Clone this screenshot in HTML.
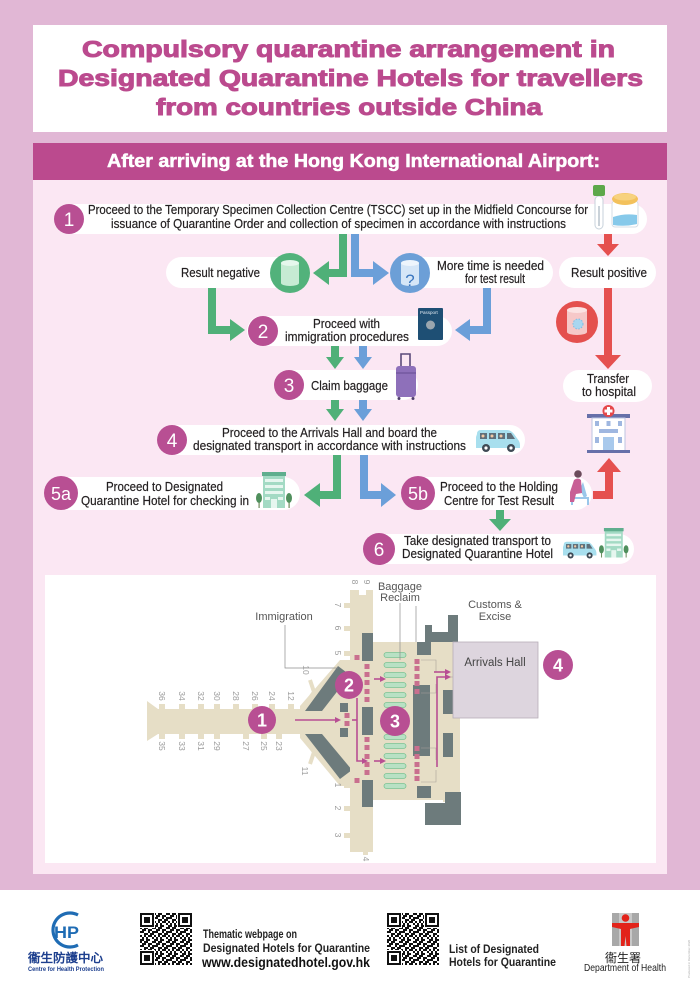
<!DOCTYPE html>
<html><head><meta charset="utf-8">
<style>
html,body{margin:0;padding:0;background:#e1b7d5;width:700px;height:989px;overflow:hidden;}
svg{display:block}
text{font-family:"Liberation Sans Narrow","Liberation Sans",sans-serif;}
.n{font-family:"Liberation Sans",sans-serif;fill:#fff;text-anchor:middle;}
.g{font-family:"Liberation Sans",sans-serif;fill:#9a9a9a;font-size:8.5px;text-anchor:middle;}
.t{fill:#231f20;font-size:13px;}
</style></head><body>
<svg width="700" height="989" viewBox="0 0 700 989" xmlns="http://www.w3.org/2000/svg">
<defs>
<pattern id="qr" patternUnits="userSpaceOnUse" x="0" y="0" width="14" height="14">
<path fill="#111" d="M0 0h2v2h-2z M4 0h4v2h-4z M12 0h2v2h-2z M2 2h4v2h-4z M8 2h4v2h-4z M0 4h4v2h-4z M8 4h2v2h-2z M12 4h2v2h-2z M4 6h4v2h-4z M10 6h4v2h-4z M0 8h2v2h-2z M4 8h2v2h-2z M8 8h4v2h-4z M2 10h2v2h-2z M6 10h2v2h-2z M12 10h2v2h-2z M0 12h4v2h-4z M6 12h4v2h-4z"/>
</pattern>
<g id="qrcode">
<rect width="52" height="52" fill="#fff"/>
<rect width="52" height="52" fill="url(#qr)"/>
<g>
<rect x="0" y="0" width="15" height="15" fill="#fff"/><rect x="0" y="0" width="14" height="14" fill="#111"/><rect x="2" y="2" width="10" height="10" fill="#fff"/><rect x="4" y="4" width="6" height="6" fill="#111"/>
<rect x="37" y="0" width="15" height="15" fill="#fff"/><rect x="38" y="0" width="14" height="14" fill="#111"/><rect x="40" y="2" width="10" height="10" fill="#fff"/><rect x="42" y="4" width="6" height="6" fill="#111"/>
<rect x="0" y="37" width="15" height="15" fill="#fff"/><rect x="0" y="38" width="14" height="14" fill="#111"/><rect x="2" y="40" width="10" height="10" fill="#fff"/><rect x="4" y="42" width="6" height="6" fill="#111"/>
</g>
</g>
<g id="van">
<path d="M1,5 Q1,1 5,1 L31,1 Q35,1 38,5 L43,12 Q44,14 44,16 L44,19 L0,19 L0,8 Z" fill="#a8dfee"/>
<rect x="4" y="4" width="7" height="6" fill="#5f6f7a"/>
<rect x="13" y="4" width="7" height="6" fill="#5f6f7a"/>
<rect x="22" y="4" width="7" height="6" fill="#5f6f7a"/>
<path d="M31,4 L35,4 L39,10 L31,10 Z" fill="#5f6f7a"/>
<circle cx="7" cy="7" r="1.5" fill="#f1c9a5"/><circle cx="16" cy="7" r="1.5" fill="#f1c9a5"/><circle cx="25" cy="7" r="1.5" fill="#f1c9a5"/>
<circle cx="10" cy="19" r="4" fill="#3f4a55"/><circle cx="10" cy="19" r="1.6" fill="#fff"/>
<circle cx="35" cy="19" r="4" fill="#3f4a55"/><circle cx="35" cy="19" r="1.6" fill="#fff"/>
</g>
<g id="hotel">
<rect x="7" y="0" width="22" height="36" fill="#a3dac4"/>
<rect x="6" y="0" width="24" height="4" fill="#5fae8e"/>
<rect x="9" y="7" width="18" height="3" fill="#e6f6ef"/>
<rect x="9" y="13" width="18" height="3" fill="#e6f6ef"/>
<rect x="9" y="19" width="18" height="3" fill="#e6f6ef"/>
<rect x="9" y="25" width="5" height="3" fill="#e6f6ef"/><rect x="22" y="25" width="5" height="3" fill="#e6f6ef"/>
<rect x="15" y="27" width="6" height="9" fill="#e6f6ef"/>
<rect x="2.5" y="29" width="1.2" height="7" fill="#6b8a5a"/><ellipse cx="3" cy="26" rx="3" ry="5" fill="#4f8f5c"/>
<rect x="32.5" y="29" width="1.2" height="7" fill="#6b8a5a"/><ellipse cx="33" cy="26" rx="3" ry="5" fill="#4f8f5c"/>
</g>
</defs>

<rect width="700" height="989" fill="#e1b7d5"/>

<!-- Title -->
<rect x="33" y="25" width="634" height="107" fill="#fff"/>
<g fill="#bb4a8e" stroke="#bb4a8e" stroke-width="1" font-weight="bold" font-size="23">
<text x="82" y="57" textLength="533" lengthAdjust="spacingAndGlyphs">Compulsory quarantine arrangement in</text>
<text x="58" y="86" textLength="585" lengthAdjust="spacingAndGlyphs">Designated Quarantine Hotels for travellers</text>
<text x="156" y="115" textLength="386" lengthAdjust="spacingAndGlyphs">from countries outside China</text>
</g>
<rect x="33" y="143" width="634" height="37" fill="#bb4a8e"/>
<text x="107" y="167" font-size="18" font-weight="bold" fill="#fff" stroke="#fff" stroke-width="0.5" textLength="493" lengthAdjust="spacingAndGlyphs">After arriving at the Hong Kong International Airport:</text>

<rect x="33" y="180" width="634" height="694" fill="#fbe7f3"/>

<!-- ===== Flow arrows ===== -->
<g fill="none" stroke-width="8" stroke-linejoin="miter">
<polyline points="343,233 343,273 328,273" stroke="#4fb078"/>
<polyline points="355,233 355,273 374,273" stroke="#6b9fd9"/>
<polyline points="212,288 212,330 231,330" stroke="#4fb078"/>
<polyline points="487,288 487,330 469,330" stroke="#6b9fd9"/>
<polyline points="337,455 337,495 319,495" stroke="#4fb078"/>
<polyline points="364,455 364,495 382,495" stroke="#6b9fd9"/>
<line x1="335" y1="346" x2="335" y2="358" stroke="#4fb078"/>
<line x1="363" y1="346" x2="363" y2="358" stroke="#6b9fd9"/>
<line x1="335" y1="400" x2="335" y2="410" stroke="#4fb078"/>
<line x1="363" y1="400" x2="363" y2="410" stroke="#6b9fd9"/>
<line x1="500" y1="509" x2="500" y2="520" stroke="#4fb078"/>
<line x1="608" y1="233" x2="608" y2="245" stroke="#e5504f"/>
<line x1="608" y1="288" x2="608" y2="356" stroke="#e5504f"/>
<polyline points="593,495 609,495 609,471" stroke="#e5504f"/>
</g>
<g>
<polygon points="329,261 313,273 329,285" fill="#4fb078"/>
<polygon points="373,261 389,273 373,285" fill="#6b9fd9"/>
<polygon points="230,319 245,330 230,341" fill="#4fb078"/>
<polygon points="470,319 455,330 470,341" fill="#6b9fd9"/>
<polygon points="320,483 304,495 320,507" fill="#4fb078"/>
<polygon points="381,483 396,495 381,507" fill="#6b9fd9"/>
<polygon points="326,357 344,357 335,369" fill="#4fb078"/>
<polygon points="354,357 372,357 363,369" fill="#6b9fd9"/>
<polygon points="326,409 344,409 335,421" fill="#4fb078"/>
<polygon points="354,409 372,409 363,421" fill="#6b9fd9"/>
<polygon points="489,519 511,519 500,531" fill="#4fb078"/>
<polygon points="597,244 619,244 608,256" fill="#e5504f"/>
<polygon points="595,355 621,355 608,369" fill="#e5504f"/>
<polygon points="597,472 621,472 609,458" fill="#e5504f"/>
</g>

<!-- ===== Pills ===== -->
<g fill="#fff">
<rect x="56" y="204" width="591" height="30" rx="15"/>
<rect x="166" y="257" width="132" height="31" rx="15.5"/>
<rect x="395" y="257" width="158" height="31" rx="15.5"/>
<rect x="559" y="257" width="97" height="31" rx="15.5"/>
<rect x="247" y="316" width="205" height="30" rx="15"/>
<rect x="275" y="370" width="143" height="30" rx="15"/>
<rect x="563" y="370" width="89" height="32" rx="16"/>
<rect x="157" y="425" width="368" height="30" rx="15"/>
<rect x="45" y="477" width="255" height="33" rx="16.5"/>
<rect x="402" y="477" width="190" height="33" rx="16.5"/>
<rect x="364" y="534" width="270" height="30" rx="15"/>
</g>

<!-- ===== Step circles ===== -->
<g fill="#b84f93">
<circle cx="69" cy="219" r="15"/>
<circle cx="263" cy="331" r="15"/>
<circle cx="289" cy="385" r="15"/>
<circle cx="172" cy="440" r="15"/>
<circle cx="61" cy="493" r="17"/>
<circle cx="418" cy="493" r="17"/>
<circle cx="379" cy="549" r="16"/>
</g>
<g class="n" font-size="19">
<text x="69" y="226" class="n">1</text>
<text x="263" y="338" class="n">2</text>
<text x="289" y="392" class="n">3</text>
<text x="172" y="447" class="n">4</text>
<text x="61" y="500" class="n" font-size="18">5a</text>
<text x="418" y="500" class="n" font-size="18">5b</text>
<text x="379" y="556" class="n">6</text>
</g>

<!-- ===== Step texts ===== -->
<g class="t" stroke="#231f20" stroke-width="0.2">
<text x="88" y="214" font-size="12.5" textLength="500" lengthAdjust="spacingAndGlyphs" fill="#231f20">Proceed to the Temporary Specimen Collection Centre (TSCC) set up in the Midfield Concourse for</text>
<text x="111" y="228" font-size="12.5" textLength="455" lengthAdjust="spacingAndGlyphs" fill="#231f20">issuance of Quarantine Order and collection of specimen in accordance with instructions</text>
<text x="181" y="277" font-size="13" textLength="79" lengthAdjust="spacingAndGlyphs" fill="#231f20">Result negative</text>
<text x="437" y="270" font-size="13" textLength="107" lengthAdjust="spacingAndGlyphs" fill="#231f20">More time is needed</text>
<text x="465" y="283" font-size="13" textLength="60" lengthAdjust="spacingAndGlyphs" fill="#231f20">for test result</text>
<text x="571" y="277" font-size="13" textLength="76" lengthAdjust="spacingAndGlyphs" fill="#231f20">Result positive</text>
<text x="313" y="328" font-size="13" textLength="67" lengthAdjust="spacingAndGlyphs" fill="#231f20">Proceed with</text>
<text x="285" y="341" font-size="13" textLength="124" lengthAdjust="spacingAndGlyphs" fill="#231f20">immigration procedures</text>
<text x="311" y="390" font-size="13" textLength="77" lengthAdjust="spacingAndGlyphs" fill="#231f20">Claim baggage</text>
<text x="587" y="383" font-size="13" textLength="42" lengthAdjust="spacingAndGlyphs" fill="#231f20">Transfer</text>
<text x="582" y="396" font-size="13" textLength="54" lengthAdjust="spacingAndGlyphs" fill="#231f20">to hospital</text>
<text x="222" y="437" font-size="13" textLength="215" lengthAdjust="spacingAndGlyphs" fill="#231f20">Proceed to the Arrivals Hall and board the</text>
<text x="193" y="450" font-size="13" textLength="273" lengthAdjust="spacingAndGlyphs" fill="#231f20">designated transport in accordance with instructions</text>
<text x="106" y="491" font-size="13" textLength="117" lengthAdjust="spacingAndGlyphs" fill="#231f20">Proceed to Designated</text>
<text x="81" y="505" font-size="13" textLength="168" lengthAdjust="spacingAndGlyphs" fill="#231f20">Quarantine Hotel for checking in</text>
<text x="440" y="491" font-size="13" textLength="118" lengthAdjust="spacingAndGlyphs" fill="#231f20">Proceed to the Holding</text>
<text x="444" y="505" font-size="13" textLength="110" lengthAdjust="spacingAndGlyphs" fill="#231f20">Centre for Test Result</text>
<text x="404" y="545" font-size="13" textLength="147" lengthAdjust="spacingAndGlyphs" fill="#231f20">Take designated transport to</text>
<text x="402" y="558" font-size="13" textLength="151" lengthAdjust="spacingAndGlyphs" fill="#231f20">Designated Quarantine Hotel</text>
</g>

<!-- ===== Icons ===== -->
<g>
<rect x="595" y="196" width="8" height="33" rx="4" fill="#fff" stroke="#c7d2db" stroke-width="1"/>
<line x1="599" y1="206" x2="599" y2="226" stroke="#b9c3cc" stroke-width="1.5"/>
<rect x="593" y="185" width="12" height="11" rx="2" fill="#5da84a"/>
<rect x="612" y="201" width="26" height="26" rx="3" fill="#fff" stroke="#d6dee6"/>
<path d="M613,217 Q625,213 637,215 L637,224 Q625,227 613,225 Z" fill="#86c9ea"/>
<ellipse cx="625" cy="199" rx="13" ry="6" fill="#f3c15c"/>
<ellipse cx="625" cy="197" rx="11" ry="3.5" fill="#f7d27f"/>
</g>
<circle cx="290" cy="273" r="20" fill="#52b27b"/>
<rect x="281" y="263" width="18" height="20" fill="#c6ebd3"/>
<ellipse cx="290" cy="283" rx="9" ry="3" fill="#c6ebd3"/>
<ellipse cx="290" cy="263" rx="9" ry="3" fill="#e6f7ec"/>
<circle cx="410" cy="273" r="20" fill="#6c9fd7"/>
<rect x="401" y="263" width="18" height="20" fill="#d5e6f7"/>
<ellipse cx="410" cy="283" rx="9" ry="3" fill="#d5e6f7"/>
<ellipse cx="410" cy="263" rx="9" ry="3" fill="#eef5fc"/>
<text x="410" y="286" font-size="17" fill="#3b77c0" text-anchor="middle" font-family="Liberation Sans, sans-serif">?</text>
<circle cx="577" cy="322" r="21" fill="#e4504e"/>
<rect x="567" y="310" width="20" height="22" fill="#f6c8c8"/>
<ellipse cx="577" cy="332" rx="10" ry="3" fill="#f6c8c8"/>
<ellipse cx="577" cy="310" rx="10" ry="3" fill="#fbe3e3"/>
<circle cx="578" cy="324" r="5" fill="#a9d6f0" stroke="#7fbde3" stroke-dasharray="1.5 1.5"/>
<rect x="418" y="308" width="25" height="32" rx="1" fill="#1e4f74"/>
<text x="420" y="314" font-size="4.5" fill="#dfe8f0" font-family="Liberation Sans, sans-serif">Passport</text>
<circle cx="430.5" cy="325" r="4.5" fill="#9aa6ae"/>
<path d="M401,367 L401,354 L410,354 L410,367" fill="none" stroke="#5b4a7a" stroke-width="1.6"/>
<rect x="396" y="366" width="20" height="31" rx="3" fill="#8e70ba"/>
<rect x="396" y="372" width="20" height="2" fill="#7a5ea6"/>
<circle cx="399" cy="398.5" r="1.5" fill="#4d3d6a"/><circle cx="413" cy="398.5" r="1.5" fill="#4d3d6a"/>
<use href="#van" transform="translate(476,429)"/>
<use href="#van" transform="translate(563,541) scale(0.76)"/>
<use href="#hotel" transform="translate(256,472)"/>
<use href="#hotel" transform="translate(599,528) scale(0.82)"/>
<rect x="587" y="414" width="43" height="4" fill="#6670a9"/>
<rect x="592" y="418" width="33" height="33" fill="#fff" stroke="#bcc6e2"/>
<rect x="595" y="421" width="4" height="5" fill="#9fb7e0"/><rect x="606.5" y="421" width="4" height="5" fill="#9fb7e0"/><rect x="618" y="421" width="4" height="5" fill="#9fb7e0"/>
<rect x="599" y="429" width="19" height="4" fill="#9fb7e0"/>
<rect x="595" y="437" width="4" height="6" fill="#9fb7e0"/><rect x="618" y="437" width="4" height="6" fill="#9fb7e0"/>
<rect x="603" y="437" width="11" height="14" fill="#a8c9ec"/>
<rect x="587" y="450" width="43" height="3" fill="#6670a9"/>
<circle cx="608.5" cy="411" r="6" fill="#e5484a"/>
<rect x="607" y="407" width="3" height="8" fill="#fff"/><rect x="604.5" y="409.5" width="8" height="3" fill="#fff"/>
<path d="M572,505 L572,498 L588,498 L588,505" fill="none" stroke="#9ac7ea" stroke-width="2"/>
<path d="M583,482 L587,496 L584,498 L580,489 Z" fill="#9ac7ea"/>
<path d="M574,480 Q578,477 581,480 L582,493 L576,494 L574,502 L570,502 L570,492 Z" fill="#c85f95"/>
<circle cx="578" cy="474" r="3.8" fill="#6b4b5b"/>

<!-- ===== Map ===== -->
<rect x="45" y="575" width="611" height="288" fill="#fff"/>
<g>
<polygon points="147,701 158,709 158,734 147,741" fill="#e6dec6"/>
<rect x="157" y="709" width="148" height="25" fill="#e6dec6"/>
<g fill="#e6dec6">
<rect x="159" y="704" width="6" height="5"/><rect x="179" y="704" width="6" height="5"/><rect x="198" y="704" width="6" height="5"/><rect x="214" y="704" width="6" height="5"/><rect x="233" y="704" width="6" height="5"/><rect x="252" y="704" width="6" height="5"/><rect x="269" y="704" width="6" height="5"/><rect x="288" y="704" width="6" height="5"/>
<rect x="159" y="734" width="6" height="5"/><rect x="179" y="734" width="6" height="5"/><rect x="198" y="734" width="6" height="5"/><rect x="214" y="734" width="6" height="5"/><rect x="243" y="734" width="6" height="5"/><rect x="261" y="734" width="6" height="5"/><rect x="276" y="734" width="6" height="5"/>
</g>
<polygon points="300,706 340,660 352,660 352,786 340,786 300,738" fill="#e6dec6"/>
<polyline points="306,704 314,692 310,680" fill="none" stroke="#e6dec6" stroke-width="4"/>
<polyline points="306,740 314,752 310,764" fill="none" stroke="#e6dec6" stroke-width="4"/>
<polygon points="305,711 338,666 350,675 322,711" fill="#6d7b7c"/>
<polygon points="305,734 322,734 352,770 340,779" fill="#6d7b7c"/>
<rect x="340" y="703" width="8" height="9" fill="#6d7b7c"/>
<rect x="340" y="728" width="8" height="9" fill="#6d7b7c"/>
<rect x="350" y="590" width="23" height="262" fill="#e6dec6"/>
<rect x="359" y="589" width="7" height="6" fill="#fff"/>
<g fill="#e6dec6">
<rect x="344" y="603" width="6" height="5"/><rect x="344" y="626" width="6" height="5"/><rect x="344" y="651" width="6" height="5"/>
<rect x="344" y="783" width="6" height="5"/><rect x="344" y="806" width="6" height="5"/><rect x="344" y="833" width="6" height="5"/>
<rect x="363" y="850" width="5" height="5"/>
</g>
<g fill="#6d7b7c">
<rect x="362" y="633" width="11" height="28"/>
<rect x="362" y="707" width="11" height="28"/>
<rect x="362" y="780" width="11" height="27"/>
</g>
<rect x="373" y="642" width="87" height="158" fill="#e6dec6"/>
<rect x="443" y="718" width="17" height="84" fill="#e6dec6"/>
<g fill="#6d7b7c">
<rect x="413" y="685" width="17" height="71"/>
<rect x="417" y="642" width="14" height="13"/>
<rect x="417" y="786" width="14" height="12"/>
<polygon points="425,625 432,625 432,632 448,632 448,615 458,615 458,642 425,642"/>
<polygon points="425,803 445,803 445,792 461,792 461,825 425,825"/>
<rect x="443" y="690" width="10" height="24"/>
<rect x="443" y="733" width="10" height="24"/>
</g>
<g fill="#b8e1c4" stroke="#7cc394" stroke-width="0.8">
<rect x="384" y="652.5" width="22" height="5" rx="2.5"/><rect x="384" y="662.5" width="22" height="5" rx="2.5"/><rect x="384" y="672.5" width="22" height="5" rx="2.5"/><rect x="384" y="682.5" width="22" height="5" rx="2.5"/><rect x="384" y="692.5" width="22" height="5" rx="2.5"/><rect x="384" y="702.5" width="22" height="5" rx="2.5"/>
<rect x="384" y="734.5" width="22" height="5" rx="2.5"/><rect x="384" y="743.5" width="22" height="5" rx="2.5"/><rect x="384" y="753.5" width="22" height="5" rx="2.5"/><rect x="384" y="763.5" width="22" height="5" rx="2.5"/><rect x="384" y="773.5" width="22" height="5" rx="2.5"/><rect x="384" y="783.5" width="22" height="5" rx="2.5"/>
</g>
<g fill="none" stroke="#a9a29a" stroke-width="0.6">
<polyline points="421,660 436,660 436,672"/>
<polyline points="421,693 436,693 436,684"/>
<polyline points="421,748 436,748 436,760"/>
<polyline points="421,782 436,782 436,770"/>
<line x1="449" y1="677" x2="453" y2="677"/>
</g>
<g fill="#c96f8e">
<rect x="364.5" y="664" width="5" height="5"/><rect x="364.5" y="672" width="5" height="5"/><rect x="364.5" y="680" width="5" height="5"/><rect x="364.5" y="689" width="5" height="5"/><rect x="364.5" y="697" width="5" height="5"/>
<rect x="364.5" y="737" width="5" height="5"/><rect x="364.5" y="745" width="5" height="5"/><rect x="364.5" y="754" width="5" height="5"/><rect x="364.5" y="762" width="5" height="5"/><rect x="364.5" y="770" width="5" height="5"/>
<rect x="354.5" y="655" width="5" height="5"/><rect x="354.5" y="778" width="5" height="5"/>
<rect x="344.5" y="713" width="5" height="5"/><rect x="344.5" y="721" width="5" height="5"/>
<rect x="414.5" y="659" width="5" height="5"/><rect x="414.5" y="666" width="5" height="5"/><rect x="414.5" y="674" width="5" height="5"/><rect x="414.5" y="681" width="5" height="5"/><rect x="414.5" y="689" width="5" height="5"/>
<rect x="414.5" y="746" width="5" height="5"/><rect x="414.5" y="754" width="5" height="5"/><rect x="414.5" y="762" width="5" height="5"/><rect x="414.5" y="769" width="5" height="5"/><rect x="414.5" y="776" width="5" height="5"/>
</g>
<rect x="453" y="642" width="85" height="76" fill="#ddd5de" stroke="#b7adb8" stroke-width="0.8"/>
<text x="495" y="666" font-size="11.5" fill="#444" text-anchor="middle">Arrivals Hall</text>
<g fill="none" stroke="#b84f93" stroke-width="1.6">
<line x1="295" y1="720" x2="336" y2="720"/>
<polyline points="357,698 357,761 363,761"/>
<line x1="352" y1="720" x2="357" y2="720"/>
<line x1="374" y1="679" x2="381" y2="679"/>
<line x1="374" y1="761" x2="381" y2="761"/>
<line x1="434" y1="672" x2="446" y2="672"/>
<polyline points="437,767 437,677 446,677"/>
</g>
<g fill="#b84f93">
<polygon points="335,717 341,720 335,723"/>
<polygon points="362,758 368,761 362,764"/>
<polygon points="380,676 386,679 380,682"/>
<polygon points="380,758 386,761 380,764"/>
<polygon points="445,669 451,672 445,675"/>
<polygon points="445,674 451,677 445,680"/>
</g>
<g fill="none" stroke="#8d8d8d" stroke-width="0.7">
<polyline points="285,625 285,668 338,668"/>
<line x1="400" y1="603" x2="400" y2="660"/>
<line x1="416" y1="606" x2="416" y2="642"/>
</g>
<g fill="#555" font-size="11" text-anchor="middle" font-family="Liberation Sans, sans-serif">
<text x="284" y="620">Immigration</text>
<text x="400" y="590">Baggage</text>
<text x="400" y="601">Reclaim</text>
<text x="495" y="608">Customs &amp;</text>
<text x="495" y="620">Excise</text>
</g>
<g class="g">
<text transform="translate(162,696) rotate(90)" y="3" class="g">36</text>
<text transform="translate(182,696) rotate(90)" y="3" class="g">34</text>
<text transform="translate(201,696) rotate(90)" y="3" class="g">32</text>
<text transform="translate(217,696) rotate(90)" y="3" class="g">30</text>
<text transform="translate(236,696) rotate(90)" y="3" class="g">28</text>
<text transform="translate(255,696) rotate(90)" y="3" class="g">26</text>
<text transform="translate(272,696) rotate(90)" y="3" class="g">24</text>
<text transform="translate(291,696) rotate(90)" y="3" class="g">12</text>
<text transform="translate(162,746) rotate(90)" y="3" class="g">35</text>
<text transform="translate(182,746) rotate(90)" y="3" class="g">33</text>
<text transform="translate(201,746) rotate(90)" y="3" class="g">31</text>
<text transform="translate(217,746) rotate(90)" y="3" class="g">29</text>
<text transform="translate(246,746) rotate(90)" y="3" class="g">27</text>
<text transform="translate(264,746) rotate(90)" y="3" class="g">25</text>
<text transform="translate(279,746) rotate(90)" y="3" class="g">23</text>
<text transform="translate(306,670) rotate(90)" y="3" class="g">10</text>
<text transform="translate(305,771) rotate(90)" y="3" class="g">11</text>
<text transform="translate(338,605) rotate(90)" y="3" class="g">7</text>
<text transform="translate(338,628) rotate(90)" y="3" class="g">6</text>
<text transform="translate(338,653) rotate(90)" y="3" class="g">5</text>
<text transform="translate(338,785) rotate(90)" y="3" class="g">1</text>
<text transform="translate(338,808) rotate(90)" y="3" class="g">2</text>
<text transform="translate(338,835) rotate(90)" y="3" class="g">3</text>
<text transform="translate(355,582) rotate(90)" y="3" class="g">8</text>
<text transform="translate(367,582) rotate(90)" y="3" class="g">9</text>
<text transform="translate(366,859) rotate(90)" y="3" class="g">4</text>
</g>
<g fill="#b84f93">
<circle cx="262" cy="720" r="14"/>
<circle cx="349" cy="685" r="14"/>
<circle cx="395" cy="721" r="15"/>
<circle cx="558" cy="665" r="15"/>
</g>
<g font-size="18" font-weight="bold">
<text x="262" y="726.5" class="n">1</text>
<text x="349" y="691.5" class="n">2</text>
<text x="395" y="727.5" class="n">3</text>
<text x="558" y="671.5" class="n">4</text>
</g>
</g>

<!-- ===== Footer ===== -->
<rect x="0" y="890" width="700" height="99" fill="#fff"/>
<path d="M78,915 A17,17 0 1 0 78,945" fill="none" stroke="#1f6cb4" stroke-width="3.2"/>
<text x="54" y="938" font-size="17" font-weight="bold" fill="#1f6cb4" textLength="25" lengthAdjust="spacingAndGlyphs">HP</text>
<text x="28" y="962" font-size="12" font-weight="bold" fill="#1d3f8e" textLength="75" lengthAdjust="spacingAndGlyphs" font-family="Liberation Sans, 'Noto Sans CJK TC', sans-serif">衞生防護中心</text>
<text x="28" y="971" font-size="6.5" font-weight="bold" fill="#1d3f8e" textLength="76" lengthAdjust="spacingAndGlyphs" font-family="Liberation Serif, serif">Centre for Health Protection</text>
<use href="#qrcode" transform="translate(140,913)"/>
<use href="#qrcode" transform="translate(387,913)"/>
<text x="203" y="938" font-size="12" font-weight="bold" fill="#222" textLength="94" lengthAdjust="spacingAndGlyphs">Thematic webpage on</text>
<text x="203" y="952" font-size="12" font-weight="bold" fill="#222" textLength="167" lengthAdjust="spacingAndGlyphs">Designated Hotels for Quarantine</text>
<text x="202" y="967" font-size="13.5" font-weight="bold" fill="#111" textLength="168" lengthAdjust="spacingAndGlyphs" font-family="Liberation Sans, sans-serif">www.designatedhotel.gov.hk</text>
<text x="449" y="953" font-size="12" font-weight="bold" fill="#222" textLength="90" lengthAdjust="spacingAndGlyphs">List of Designated</text>
<text x="449" y="966" font-size="12" font-weight="bold" fill="#222" textLength="107" lengthAdjust="spacingAndGlyphs">Hotels for Quarantine</text>
<rect x="612" y="913" width="27" height="33" fill="#a8a8a8"/>
<rect x="619" y="913" width="13" height="33" fill="#c8c8c8"/>
<circle cx="625.5" cy="918" r="3.8" fill="#e2231a"/>
<polygon points="612,923 639,923 639,927 630,929 630,946 626.5,946 625.5,936 624.5,946 621,946 621,929 612,927" fill="#e2231a"/>
<text x="623" y="962" font-size="12" fill="#222" text-anchor="middle" font-family="Liberation Sans, 'Noto Sans CJK TC', sans-serif">衞生署</text>
<text x="584" y="971" font-size="10.5" fill="#222" textLength="82" lengthAdjust="spacingAndGlyphs" font-family="Liberation Sans, sans-serif">Department of Health</text>
<text transform="translate(690,978) rotate(-90)" font-size="3" fill="#aaa" font-family="Liberation Sans, sans-serif">Produced in December 2020</text>
</svg>
</body></html>
